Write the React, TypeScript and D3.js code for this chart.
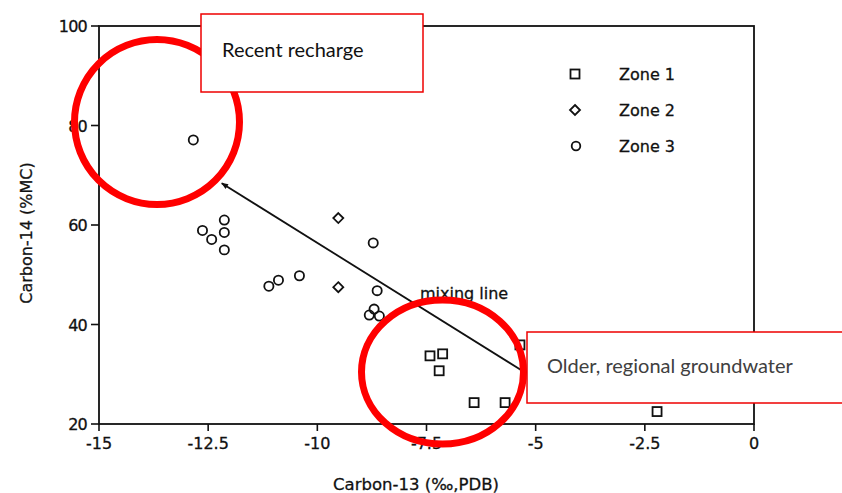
import React from "react";
import * as d3 from "d3";

const zone1X = [-7.42, -7.13, -7.21, -6.41, -5.70, -5.36, -2.22];
const zone1Y = [33.7, 34.1, 30.7, 24.3, 24.3, 35.9, 22.5];
const zone2X = [-9.52, -9.52];
const zone2Y = [61.4, 47.5];
const zone3X = [-12.84, -12.63, -12.42, -12.13, -12.13, -12.13, -11.11, -10.89, -10.41, -8.72, -8.63, -8.81, -8.70, -8.58];
const zone3Y = [77.1, 58.9, 57.1, 61.0, 58.5, 55.0, 47.7, 48.9, 49.8, 56.4, 46.8, 41.9, 43.1, 41.7];
const xTicks = [-15, -12.5, -10, -7.5, -5, -2.5, 0];
const xTickLabels = ["-15", "-12.5", "-10", "-7.5", "-5", "-2.5", "0"];
const yTicks = [20, 40, 60, 80, 100];
const legendLabels = ["Zone 1", "Zone 2", "Zone 3"];
const mixingLine = [
  { x: -5.27, y: 30.5 },
  { x: -12.19, y: 68.4 },
];

const W = 842;
const H = 493;
const x = d3.scaleLinear().domain([-15, 0]).range([99, 754]);
const y = d3.scaleLinear().domain([20, 100]).range([424, 26]);

const font = "'DejaVu Sans', Verdana, sans-serif";
const boxFont = "Lato, 'Open Sans', sans-serif";

function Square({ cx, cy, s = 9 }: { cx: number; cy: number; s?: number }) {
  return <rect x={cx - s / 2} y={cy - s / 2} width={s} height={s} fill="white" stroke="#111" strokeWidth={1.8} />;
}
function Diamond({ cx, cy, s = 5 }: { cx: number; cy: number; s?: number }) {
  const p = `${cx},${cy - s} ${cx + s},${cy} ${cx},${cy + s} ${cx - s},${cy}`;
  return <polygon points={p} fill="white" stroke="#111" strokeWidth={1.8} />;
}
function Circle({ cx, cy, r = 4.6 }: { cx: number; cy: number; r?: number }) {
  return <circle cx={cx} cy={cy} r={r} fill="none" stroke="#111" strokeWidth={1.8} />;
}

export default function App() {
  const line = d3
    .line<{ x: number; y: number }>()
    .x((d) => x(d.x))
    .y((d) => y(d.y));
  const textStyle = { fontFamily: font, fontSize: 16, fill: "#111", stroke: "#111", strokeWidth: 0.3 } as const;
  return (
    <svg width={W} height={H} style={{ position: "absolute", left: 0, top: 0, background: "white" }}>
      <defs>
        <marker id="arrow" viewBox="0 0 10 10" refX="9" refY="5" markerWidth="8" markerHeight="7" orient="auto-start-reverse" markerUnits="userSpaceOnUse">
          <path d="M0,1 L10,5 L0,9 z" fill="#111" />
        </marker>
      </defs>
      {/* frame */}
      <rect x={x(-15)} y={y(100)} width={x(0) - x(-15)} height={y(20) - y(100)} fill="none" stroke="#111" strokeWidth={1.8} />
      {/* x ticks */}
      {xTicks.map((t, i) => (
        <g key={"xt" + i}>
          <line x1={x(t)} x2={x(t)} y1={y(20)} y2={y(20) + 7} stroke="#111" strokeWidth={1.6} />
          <text x={x(t)} y={449} textAnchor="middle" {...textStyle}>
            {xTickLabels[i]}
          </text>
        </g>
      ))}
      {/* y ticks */}
      {yTicks.map((t, i) => (
        <g key={"yt" + i}>
          <line x1={x(-15) - 8} x2={x(-15)} y1={y(t)} y2={y(t)} stroke="#111" strokeWidth={1.6} />
          <text x={x(-15) - 12} y={y(t) + 6} textAnchor="end" {...textStyle} letterSpacing={-0.8}>
            {t}
          </text>
        </g>
      ))}
      <text x={416} y={490} textAnchor="middle" {...textStyle} fontSize={16.5}>
        Carbon-13 (‰,PDB)
      </text>
      <text transform={`translate(32,233) rotate(-90)`} textAnchor="middle" {...textStyle}>
        Carbon-14 (%MC)
      </text>

      {/* mixing line */}
      <path d={line(mixingLine) || ""} fill="none" stroke="#111" strokeWidth={1.8} markerEnd="url(#arrow)" />
      <text x={420} y={299} {...textStyle}>
        mixing line
      </text>

      {/* points */}
      {zone1X.map((v, i) => (
        <Square key={"z1" + i} cx={x(v)} cy={y(zone1Y[i])} />
      ))}
      {zone2X.map((v, i) => (
        <Diamond key={"z2" + i} cx={x(v)} cy={y(zone2Y[i])} />
      ))}
      {zone3X.map((v, i) => (
        <Circle key={"z3" + i} cx={x(v)} cy={y(zone3Y[i])} />
      ))}

      {/* legend */}
      <Square cx={575} cy={74} s={9} />
      <Diamond cx={575} cy={110} s={5} />
      <Circle cx={576} cy={146} r={4.3} />
      {legendLabels.map((l, i) => (
        <text key={"lg" + i} x={619} y={80 + i * 36} {...textStyle}>
          {l}
        </text>
      ))}

      {/* red highlight ellipses */}
      <ellipse cx={157} cy={122} rx={82.5} ry={82.5} fill="none" stroke="#f00" strokeWidth={7} />
      <ellipse cx={442.5} cy={372} rx={81} ry={72} fill="none" stroke="#f00" strokeWidth={7} />

      {/* callout boxes */}
      <rect x={201} y={14} width={222} height={78} fill="white" stroke="#e00" strokeWidth={1.5} />
      <text x={222} y={57} fontFamily={boxFont} fontSize={20} fill="#111">
        Recent recharge
      </text>
      <rect x={527} y={332} width={330} height={71} fill="white" stroke="#e00" strokeWidth={1.5} />
      <text x={547} y={373} fontFamily={boxFont} fontSize={20} fill="#404040">
        Older, regional groundwater
      </text>
    </svg>
  );
}
